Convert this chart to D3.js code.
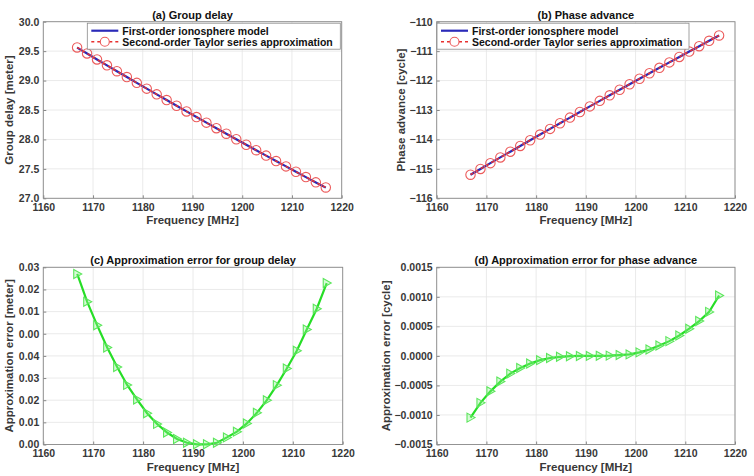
<!DOCTYPE html>
<html><head><meta charset="utf-8">
<script src="https://cdn.jsdelivr.net/npm/d3@7"></script>
<style>
body{margin:0;background:#fff;}
text{font-family:"Liberation Sans",Arial,sans-serif;font-weight:bold;}
</style></head>
<body>
<svg id="c" width="754" height="476"></svg>
<script>
const freq = [1166.8,1168.8,1170.8,1172.8,1174.8,1176.8,1178.8,1180.8,1182.8,1184.8,1186.8,1188.8,1190.8,1192.8,1194.8,1196.8,1198.8,1200.8,1202.8,1204.8,1206.8,1208.8,1210.8,1212.8,1214.8,1216.8];
const delayModel = [29.560,29.459,29.358,29.258,29.159,29.060,28.961,28.863,28.766,28.669,28.572,28.476,28.380,28.285,28.191,28.097,28.003,27.910,27.817,27.725,27.633,27.542,27.451,27.360,27.270,27.181];
const delayApprox = [29.563,29.461,29.359,29.259,29.159,29.060,28.961,28.863,28.766,28.669,28.572,28.476,28.380,28.285,28.191,28.097,28.003,27.910,27.817,27.725,27.633,27.542,27.451,27.361,27.271,27.184];
const phaseModel = [-115.200,-115.003,-114.806,-114.611,-114.416,-114.221,-114.027,-113.834,-113.642,-113.450,-113.259,-113.068,-112.878,-112.689,-112.500,-112.312,-112.125,-111.938,-111.752,-111.567,-111.382,-111.197,-111.014,-110.831,-110.648,-110.467];
const phaseApprox = [-115.199,-115.002,-114.806,-114.611,-114.416,-114.221,-114.027,-113.834,-113.642,-113.450,-113.259,-113.068,-112.878,-112.689,-112.500,-112.312,-112.125,-111.938,-111.752,-111.567,-111.382,-111.197,-111.014,-110.832,-110.649,-110.468];
const errDelay = [0.0770,0.0644,0.0538,0.0438,0.0350,0.0269,0.0203,0.0141,0.0093,0.0054,0.0025,0.0008,0.0001,0.0001,0.0008,0.0032,0.0058,0.0095,0.0143,0.0200,0.0268,0.0343,0.0423,0.0519,0.0613,0.0729];
const errPhase = [-0.001045,-0.000795,-0.000600,-0.000435,-0.000300,-0.000205,-0.000128,-0.000072,-0.000036,-0.000015,-0.000005,-0.000001,0.000000,0.000001,0.000005,0.000014,0.000025,0.000060,0.000108,0.000175,0.000250,0.000346,0.000460,0.000590,0.000745,0.001022];
const xTicks = [1160,1170,1180,1190,1200,1210,1220];
const delayTicks = [27.0,27.5,28.0,28.5,29.0,29.5,30.0];
const phaseTicks = [-116,-115,-114,-113,-112,-111,-110];
const errDelayTicks = [0,0.01,0.02,0.03,0.04,0.05,0.06,0.07,0.08];
const errDelayTickLabels = ["0.00","0.01","0.02","0.03","0.04","0.00","0.01","0.02","0.03"];
const errPhaseTicks = [-0.0015,-0.0010,-0.0005,0,0.0005,0.0010,0.0015];
const legendLabels = ["First-order ionosphere model","Second-order Taylor series approximation"];
const titles = ["(a) Group delay","(b) Phase advance","(c) Approximation error for group delay","(d) Approximation error for phase advance"];
const yLabels = ["Group delay [meter]","Phase advance [cycle]","Approximation error [meter]","Approximation error [cycle]"];

const svg = d3.select("#c");

function panel(o){
  const g = svg.append("g");
  const x = d3.scaleLinear().domain([1160,1220]).range([o.l,o.r]);
  const y = d3.scaleLinear().domain(o.dom).range([o.b,o.t]);
  g.selectAll(".gx").data(xTicks).enter().append("line")
    .attr("x1",d=>x(d)).attr("x2",d=>x(d)).attr("y1",o.t).attr("y2",o.b)
    .attr("stroke","#e4e4e4").attr("stroke-width",0.8);
  g.selectAll(".gy").data(o.ticks).enter().append("line")
    .attr("y1",d=>y(d)).attr("y2",d=>y(d)).attr("x1",o.l).attr("x2",o.r)
    .attr("stroke","#e4e4e4").attr("stroke-width",0.8);
  const ax = g.append("g").attr("transform",`translate(0,${o.b})`)
    .call(d3.axisBottom(x).tickValues(xTicks).tickSize(-3).tickPadding(5).tickFormat(d3.format("d")));
  const ay = g.append("g").attr("transform",`translate(${o.l},0)`)
    .call(d3.axisLeft(y).tickValues(o.ticks).tickSize(-3).tickPadding(4).tickFormat(o.fmt));
  [ax,ay].forEach(a=>{
    a.select(".domain").remove();
    a.selectAll("line").attr("stroke","#888");
    a.selectAll("text").attr("fill","#383838").style("font-size","10.5px").style("font-family","Liberation Sans, Arial, sans-serif").style("font-weight","bold");
  });
  g.append("rect").attr("x",o.l).attr("y",o.t).attr("width",o.r-o.l).attr("height",o.b-o.t)
    .attr("fill","none").attr("stroke","#8a8a8a").attr("stroke-width",0.9);
  g.append("text").attr("x",(o.l+o.r)/2).attr("y",o.t-3).attr("text-anchor","middle")
    .attr("fill","#111").style("font-size","11px").text(o.title);
  g.append("text").attr("x",(o.l+o.r)/2).attr("y",o.b+26).attr("text-anchor","middle")
    .attr("fill","#383838").style("font-size","11.5px").text("Frequency [MHz]");
  g.append("text").attr("transform",`translate(${o.yl},${(o.t+o.b)/2}) rotate(-90)`)
    .attr("text-anchor","middle").attr("fill","#383838").style("font-size","11.5px").text(o.ylabel);
  return {g,x,y};
}

const tri = "M-3.5,-4.5 L4.5,0 L-3.5,4.5 Z";

function linePanel(o, model, approx){
  const p = panel(o);
  const line = d3.line().x((d,i)=>p.x(freq[i])).y(d=>p.y(d));
  p.g.append("path").datum(model).attr("d",line).attr("fill","none").attr("stroke","#2a2ab8").attr("stroke-width",2.2);
  p.g.append("path").datum(approx).attr("d",line).attr("fill","none").attr("stroke","#e8312f").attr("stroke-width",1.5).attr("stroke-dasharray","3,3");
  p.g.selectAll(".m").data(approx).enter().append("circle")
    .attr("cx",(d,i)=>p.x(freq[i])).attr("cy",d=>p.y(d)).attr("r",4.7)
    .attr("fill","none").attr("stroke","#ec5b5b").attr("stroke-width",1.1);
  const lg = p.g.append("g");
  lg.append("rect").attr("x",o.lgx).attr("y",o.t+1.5).attr("width",o.lgw).attr("height",26)
    .attr("fill","#fff").attr("stroke","#8a8a8a").attr("stroke-width",0.8);
  const lx = o.lgx+4;
  lg.append("line").attr("x1",lx).attr("x2",lx+27).attr("y1",o.t+9).attr("y2",o.t+9).attr("stroke","#2a2ab8").attr("stroke-width",2.2);
  lg.append("line").attr("x1",lx).attr("x2",lx+27).attr("y1",o.t+20).attr("y2",o.t+20).attr("stroke","#e8312f").attr("stroke-width",1.5).attr("stroke-dasharray","3,3");
  lg.append("circle").attr("cx",lx+13.5).attr("cy",o.t+20).attr("r",4.5).attr("fill","#fff").attr("stroke","#ec5b5b").attr("stroke-width",1.1);
  legendLabels.forEach((t,i)=>{
    lg.append("text").attr("x",lx+31).attr("y",o.t+12.8+i*11).attr("fill","#111").style("font-size","10.5px").text(t);
  });
}

function errPanel(o, vals){
  const p = panel(o);
  const line = d3.line().x((d,i)=>p.x(freq[i])).y(d=>p.y(d));
  p.g.append("path").datum(vals).attr("d",line).attr("fill","none").attr("stroke","#26de26").attr("stroke-width",2.2);
  p.g.selectAll(".m").data(vals).enter().append("path")
    .attr("d",tri).attr("transform",(d,i)=>`translate(${p.x(freq[i])},${p.y(d)})`)
    .attr("fill","rgba(140,240,140,0.35)").attr("stroke","#5be65b").attr("stroke-width",1.1);
}

linePanel({l:43.3,r:341.7,t:21.7,b:198.3,dom:[27,30],ticks:delayTicks,fmt:d3.format(".1f"),
  title:titles[0],ylabel:yLabels[0],yl:13,lgx:87.3,lgw:253}, delayModel, delayApprox);
linePanel({l:436.7,r:735,t:21.7,b:198.3,dom:[-116,-110],ticks:phaseTicks,fmt:d3.format("d"),
  title:titles[1],ylabel:yLabels[1],yl:405,lgx:437,lgw:252}, phaseModel, phaseApprox);
errPanel({l:43.3,r:342.7,t:267.3,b:444.5,dom:[0,0.08],ticks:errDelayTicks,fmt:(d,i)=>errDelayTickLabels[i],
  title:titles[2],ylabel:yLabels[2],yl:13}, errDelay);
errPanel({l:436.7,r:735,t:267.3,b:444.5,dom:[-0.0015,0.0015],ticks:errPhaseTicks,fmt:d3.format(".4f"),
  title:titles[3],ylabel:yLabels[3],yl:390}, errPhase);
</script>
</body></html>
